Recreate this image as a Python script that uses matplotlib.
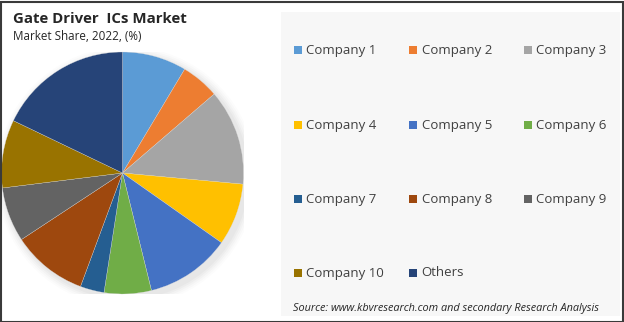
import matplotlib
matplotlib.use("Agg")
import matplotlib.pyplot as plt
from matplotlib.patches import Rectangle, Circle

categories = ["Company 1", "Company 2", "Company 3", "Company 4", "Company 5",
              "Company 6", "Company 7", "Company 8", "Company 9", "Company 10", "Others"]
shares = [8.6, 5.1, 12.8, 8.3, 11.4, 6.3, 3.2, 10.1, 7.3, 9.1, 17.9]
colors = ["#5B9BD5", "#ED7D31", "#A5A5A5", "#FFC000", "#4472C4", "#70AD47",
          "#255E91", "#9E480E", "#636363", "#997300", "#264478"]

title = "Gate Driver  ICs Market"
subtitle = "Market Share, 2022, (%)"
source = "Source: www.kbvresearch.com and secondary Research Analysis"

W, H = 624, 322
fig = plt.figure(figsize=(W / 100, H / 100), dpi=100)
fig.patch.set_facecolor("white")

# outer border
fig.patches.append(Rectangle((0.5 / W, 0.5 / H), 1 - 2 / W, 1 - 2 / H, transform=fig.transFigure,
                             fill=False, edgecolor="#3a3a3a", linewidth=1.5, zorder=10))
# light gray legend panel
fig.patches.append(Rectangle((281 / W, (H - 316) / H), (620 - 281) / W, (316 - 12) / H,
                             transform=fig.transFigure, facecolor="#F7F7F7", edgecolor="none", zorder=0))

fig.text(13 / W, 1 - 19 / H, title, fontsize=10.8, fontweight="bold", family="Open Sans",
         color="#262626", va="center", ha="left")
fig.text(13 / W, 1 - 37 / H, subtitle, fontsize=8.4, family="Open Sans",
         color="#262626", va="center", ha="left")

cx, cy, r = 122.5, 173, 121
ax = fig.add_axes([(cx - r) / W, (H - cy - r) / H, 2 * r / W, 2 * r / H])
# soft shadow
for i, a in enumerate([0.025, 0.025, 0.02, 0.015, 0.01]):
    ax.add_patch(Circle((0.03, -0.03), 1.0 + 0.015 * (i + 1), color="black", alpha=a, zorder=0, lw=0))
wedges, _ = ax.pie(shares, colors=colors, startangle=90, counterclock=False,
                   radius=1.0, wedgeprops=dict(edgecolor="#dddddd", linewidth=0.2))
for w in wedges:
    w.set_zorder(2)
ax.set_xlim(-1.0, 1.0)
ax.set_ylim(-1.0, 1.0)
ax.set_aspect("equal")
ax.axis("off")

# legend: 3 columns, row-major
col_x = [294, 409, 524]
row_y = [50.5, 125, 199, 273]
for i, (h, lab) in enumerate(zip(colors, categories)):
    rr, cc = divmod(i, 3)
    x = col_x[cc]
    y = row_y[rr]
    fig.patches.append(Rectangle((x / W, (H - y - 3.8) / H), 8 / W, 8 / H,
                                 transform=fig.transFigure, facecolor=h, edgecolor="none", zorder=3))
    fig.text((x + 12.5) / W, 1 - y / H, lab, fontsize=9.5, family="Open Sans",
             color="#404040", va="center", ha="left")

fig.text(293 / W, 1 - 309 / H, source, fontsize=7.85, family="Open Sans", style="italic",
         color="#262626", va="center", ha="left")

fig.savefig("out.png", dpi=100, facecolor="white")
